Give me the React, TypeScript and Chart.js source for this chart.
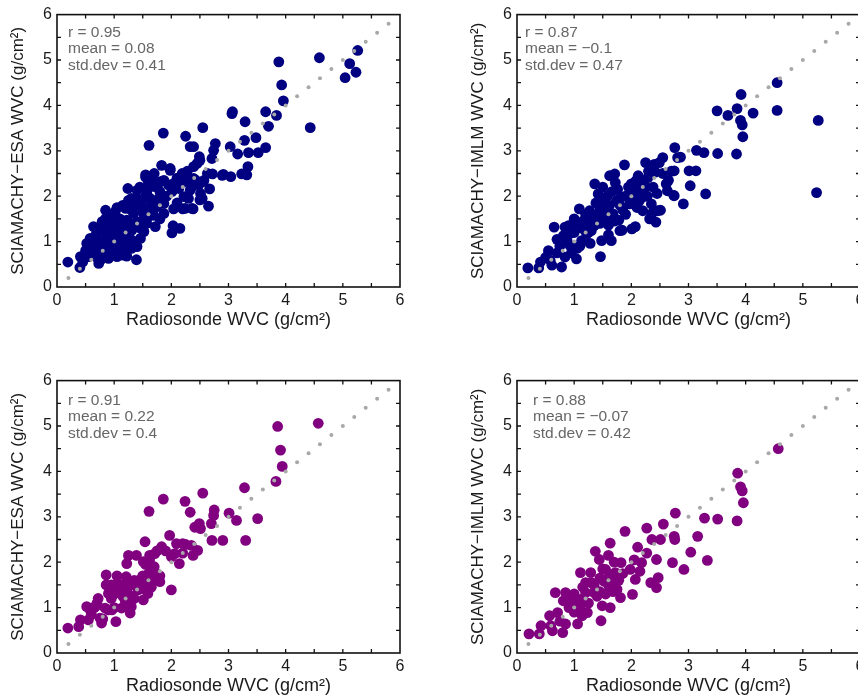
import React, { useEffect, useRef } from 'react';
import { Chart, registerables } from 'chart.js';

Chart.register(...registerables);

type Pt = [number, number];

const AXIS_TICKS = [0, 1, 2, 3, 4, 5, 6];
const MINOR_TICKS = [0.5, 1, 1.5, 2, 2.5, 3, 3.5, 4, 4.5, 5, 5.5];
const REF_LINE = [0.2, 0.4, 0.6, 0.8, 1.0, 1.2, 1.4, 1.6, 1.8, 2.0, 2.2, 2.4, 2.6, 2.8, 3.0, 3.2, 3.4, 3.6, 3.8, 4.0, 4.2, 4.4, 4.6, 4.8, 5.0, 5.2, 5.4, 5.6, 5.8];

const X_TITLE = 'Radiosonde WVC (g/cm²)';
const Y_TITLE_ESA = 'SCIAMACHY−ESA WVC (g/cm²)';
const Y_TITLE_IMLM = 'SCIAMACHY−IMLM WVC (g/cm²)';

const STATS_ESA_ALL = ['r = 0.95', 'mean = 0.08', 'std.dev = 0.41'];
const STATS_IMLM_ALL = ['r = 0.87', 'mean = −0.1', 'std.dev = 0.47'];
const STATS_ESA_SUB = ['r = 0.91', 'mean = 0.22', 'std.dev = 0.4'];
const STATS_IMLM_SUB = ['r = 0.88', 'mean = −0.07', 'std.dev = 0.42'];

const ESA_ALL: Pt[] = [
  [5.26, 5.21], [4.59, 5.05], [5.12, 4.92], [5.04, 4.61], [5.23, 4.73],
  [3.88, 4.96], [3.93, 4.45], [3.96, 4.10], [4.43, 3.51], [3.84, 3.78],
  [3.65, 3.86], [3.70, 3.54], [3.65, 3.07], [3.48, 3.29], [3.52, 2.96],
  [3.35, 2.96], [3.34, 2.65], [3.29, 3.64], [3.28, 3.23], [3.32, 2.47],
  [3.23, 2.49], [3.16, 2.93], [3.06, 3.82], [3.07, 3.86], [3.03, 3.09],
  [3.04, 2.43], [2.91, 2.48], [2.77, 3.16], [2.74, 3.01], [2.71, 2.83],
  [2.72, 2.49], [2.67, 2.16], [2.65, 1.78], [2.55, 3.51], [2.50, 2.79],
  [2.49, 2.87], [2.45, 2.72], [2.39, 3.09], [2.33, 3.09], [2.25, 3.32],
  [2.39, 2.65], [2.42, 2.36], [2.56, 2.32], [2.50, 1.92], [2.38, 1.72],
  [2.20, 1.72], [2.04, 1.72], [2.15, 1.29], [2.01, 1.19], [2.03, 1.35],
  [1.86, 3.39], [1.61, 3.12], [1.83, 2.68], [1.98, 2.61], [1.55, 2.47], [1.39, 0.60],
  [1.98, 2.57], [2.19, 2.50], [1.55, 2.42], [2.22, 2.31], [2.39, 2.39], [2.57, 2.35],
  [2.89, 2.46], [1.69, 2.31], [1.87, 2.35], [2.04, 2.28],
  [1.24, 2.17], [1.40, 2.13], [1.57, 2.06], [1.75, 2.20], [1.84, 2.02], [2.01, 2.10],
  [2.13, 2.17], [2.33, 2.13], [2.51, 2.06], [1.25, 1.91], [1.63, 1.95], [2.54, 1.95], [2.22, 1.99],
  [0.85, 1.69], [1.02, 1.66], [1.43, 1.80], [1.57, 1.73], [1.75, 1.77], [1.87, 1.84],
  [2.24, 1.73], [2.36, 1.73], [1.20, 1.73], [1.34, 1.62], [1.69, 1.58], [1.87, 1.62],
  [0.85, 1.51], [0.64, 1.33], [0.87, 1.29], [1.02, 1.36], [1.22, 1.47], [1.40, 1.44],
  [1.57, 1.40], [1.72, 1.33], [1.52, 1.22], [1.31, 1.25], [1.14, 1.29], [0.79, 1.44],
  [0.58, 1.07], [0.70, 1.03], [0.61, 0.89], [0.85, 1.07], [0.99, 0.89], [1.17, 0.96],
  [1.31, 1.03], [1.46, 1.07], [1.05, 1.14], [0.90, 0.81], [1.22, 0.81], [1.40, 0.89],
  [0.52, 0.96], [0.73, 0.85],
  [0.19, 0.55], [0.40, 0.43], [0.41, 0.67], [0.55, 0.67], [0.73, 0.52], [0.76, 0.59],
  [1.05, 0.67], [1.11, 0.78], [0.90, 0.63], [1.22, 0.68], [0.58, 0.78],
  [1.72, 2.21], [1.81, 2.32], [2.05, 2.21], [2.27, 2.36], [2.36, 2.21], [2.48, 2.25],
  [1.55, 2.00], [1.62, 2.20], [1.65, 1.90], [1.60, 1.55], [1.50, 1.65], [1.45, 1.30], [2.63, 2.50],
  [1.10, 1.50], [1.15, 1.10], [1.28, 1.40], [1.35, 1.80], [1.48, 1.90], [1.52, 1.50],
  [1.66, 1.70], [1.78, 1.95], [1.80, 1.50], [1.92, 2.00], [1.95, 2.25], [2.10, 2.40],
  [2.28, 2.55], [0.95, 1.20], [0.65, 0.70], [0.95, 1.45], [1.30, 1.95], [1.70, 2.50],
  [2.10, 1.85], [2.30, 1.95],
  [0.62, 1.00], [0.68, 1.15], [0.75, 1.25], [0.80, 0.95], [0.88, 1.15], [0.92, 1.00],
  [1.00, 1.10], [1.08, 1.00], [1.12, 1.20], [1.18, 1.10], [1.25, 1.15], [0.98, 1.55],
  [1.05, 1.75], [1.15, 1.80], [1.30, 1.70], [1.40, 1.95], [1.45, 2.20], [1.60, 2.30],
  [1.68, 1.80], [1.80, 2.10], [0.70, 0.65], [0.85, 0.75], [1.00, 0.78], [1.15, 0.70],
  [1.30, 0.85], [0.50, 0.80], [0.45, 0.55],
];

const IMLM_ALL: Pt[] = [
  [0.19, 0.42], [0.38, 0.42], [0.41, 0.55], [0.58, 0.59], [0.55, 0.80], [0.61, 0.48],
  [0.65, 1.32], [0.78, 0.44], [0.81, 1.13], [0.84, 1.32], [0.84, 0.66], [0.93, 0.91],
  [1.04, 0.62], [1.09, 1.72], [1.13, 1.02], [1.16, 1.46], [1.22, 1.17], [1.27, 1.68],
  [1.30, 1.24], [1.36, 2.27], [1.42, 2.05], [1.46, 0.67], [1.48, 1.02], [1.51, 1.54],
  [1.53, 1.90], [1.56, 1.46], [1.62, 2.45], [1.65, 1.02], [1.71, 2.49], [1.68, 1.61],
  [1.74, 1.90], [1.80, 1.24], [1.82, 1.98], [1.88, 2.69], [1.97, 1.83], [2.00, 2.27],
  [2.01, 1.28], [2.08, 2.34], [2.11, 2.12], [2.14, 1.90], [2.20, 1.68], [2.25, 2.74],
  [2.29, 2.41], [2.32, 1.50], [2.35, 1.83], [2.43, 1.43], [2.46, 1.68], [2.49, 2.74],
  [2.55, 2.85], [2.61, 2.27], [2.63, 2.12], [2.75, 2.01], [2.75, 2.56], [2.76, 3.07],
  [2.81, 2.85], [2.91, 1.83], [3.01, 2.56], [3.03, 2.23], [3.13, 2.56], [3.14, 3.01],
  [3.27, 2.96], [3.30, 2.05], [3.50, 3.88], [3.51, 2.94], [3.69, 3.78], [3.85, 3.93],
  [3.84, 2.93], [3.92, 4.24], [3.91, 3.67], [3.94, 3.57], [3.95, 3.31], [4.13, 3.83],
  [4.55, 4.50], [4.55, 3.89], [5.27, 3.67], [5.24, 2.08],
  [0.96, 0.89], [1.19, 1.25], [1.28, 0.96], [1.60, 1.36], [1.78, 1.47], [1.84, 1.25],
  [2.07, 1.33], [2.16, 2.32], [2.21, 1.99], [2.36, 1.62], [2.42, 2.53], [2.45, 2.06],
  [2.51, 1.69], [2.65, 2.35], [2.74, 2.02], [2.86, 2.86], [0.93, 1.18], [1.17, 1.36],
  [0.70, 0.75], [0.88, 1.00], [1.00, 1.20], [1.05, 0.85], [1.12, 1.30], [1.25, 1.45],
  [1.35, 1.35], [1.40, 1.60], [1.45, 1.75], [1.55, 1.65], [1.62, 1.80], [1.66, 2.10],
  [1.70, 1.45], [1.76, 2.15], [1.85, 1.70], [1.90, 2.00], [1.95, 2.20], [2.05, 1.95],
  [2.12, 2.45], [2.18, 2.15], [2.28, 2.00], [2.38, 2.20], [2.40, 2.70], [2.55, 2.50], [2.70, 2.55],
  [0.70, 1.05], [0.75, 0.90], [0.90, 1.35], [1.00, 1.50], [1.05, 1.35], [1.10, 0.90],
  [1.20, 1.60], [1.25, 1.20], [1.32, 1.55], [1.38, 1.85], [1.45, 1.40], [1.50, 2.20],
  [1.58, 2.00], [1.60, 1.15], [1.72, 2.30], [1.80, 1.80], [1.90, 1.60], [2.00, 2.05],
  [2.10, 1.75], [2.25, 2.20], [2.30, 2.55], [0.50, 0.65], [0.95, 0.75],
];

const ESA_SUB: Pt[] = [
  [0.19, 0.55], [0.38, 0.58], [0.41, 0.73], [0.52, 1.02], [0.55, 0.73], [0.58, 0.95],
  [0.67, 1.02], [0.72, 1.20], [0.75, 0.77], [0.78, 0.66], [0.86, 1.72], [0.86, 1.50],
  [0.84, 0.99], [0.90, 1.31], [0.96, 0.95], [1.03, 0.69], [1.07, 1.53], [1.10, 1.39],
  [1.13, 0.99], [1.19, 1.17], [1.21, 1.68], [1.25, 2.15], [1.25, 1.46], [1.28, 0.88],
  [1.30, 1.02], [1.22, 1.97], [1.30, 1.53], [1.39, 2.15], [1.42, 1.39], [1.45, 1.61],
  [1.51, 1.17], [1.54, 2.45], [1.51, 2.01], [1.57, 1.68], [1.59, 1.31], [1.61, 3.12],
  [1.62, 2.15], [1.65, 1.90], [1.68, 1.57], [1.71, 2.19], [1.74, 1.75], [1.80, 1.57],
  [1.83, 2.34], [1.86, 3.39], [1.97, 2.59], [2.00, 1.39], [2.00, 2.12], [2.06, 2.19],
  [2.14, 1.97], [2.09, 2.41], [2.20, 2.41], [2.24, 3.34], [2.25, 2.39], [2.33, 3.10],
  [2.35, 2.37], [2.38, 2.15], [2.41, 2.77], [2.46, 2.26], [2.49, 2.85], [2.51, 2.74],
  [2.55, 3.52], [2.70, 2.85], [2.71, 2.48], [2.75, 3.15], [2.74, 3.03], [2.90, 2.48],
  [3.01, 3.08], [3.14, 2.92], [3.28, 3.64], [3.30, 2.48], [3.51, 2.96], [3.83, 3.78],
  [3.86, 4.99], [3.91, 4.47], [3.94, 4.11], [4.57, 5.06],
  [0.95, 1.50], [1.00, 1.30], [1.15, 1.50], [1.20, 1.35], [1.35, 1.60], [1.40, 1.45],
  [1.45, 1.55], [1.55, 1.40], [1.60, 1.50], [1.65, 1.45], [1.70, 1.65], [1.75, 2.25],
  [1.62, 2.05], [1.55, 1.95], [1.50, 1.70], [1.35, 1.20], [1.20, 1.10], [1.00, 1.00],
  [0.90, 0.95], [0.80, 0.75], [0.65, 1.00], [0.60, 0.85],
  [0.70, 1.10], [0.95, 1.20], [1.05, 1.70], [1.15, 1.25], [1.30, 1.25], [1.50, 1.45],
  [1.60, 1.75], [1.70, 1.90], [1.80, 1.70], [1.90, 2.25], [2.20, 2.20],
];

const IMLM_SUB: Pt[] = [
  [0.21, 0.42], [0.39, 0.42], [0.42, 0.60], [0.57, 0.82], [0.59, 0.60], [0.62, 0.49],
  [0.67, 1.33], [0.71, 0.89], [0.80, 0.45], [0.81, 1.15], [0.85, 1.33], [0.85, 0.64],
  [0.91, 1.00], [1.06, 0.64], [1.11, 1.77], [1.11, 1.18], [1.14, 0.82], [1.20, 1.33],
  [1.23, 0.89], [1.29, 1.77], [1.35, 1.33], [1.37, 2.24], [1.44, 2.06], [1.47, 0.71],
  [1.49, 1.04], [1.52, 1.58], [1.55, 1.84], [1.61, 1.47], [1.63, 2.42], [1.63, 1.00],
  [1.72, 1.77], [1.75, 1.40], [1.81, 1.22], [1.82, 1.99], [1.89, 2.68], [1.98, 1.84],
  [2.02, 1.29], [2.07, 1.62], [2.11, 2.33], [2.18, 1.99], [2.27, 2.75], [2.27, 2.20],
  [2.34, 1.55], [2.36, 2.50], [2.44, 1.44], [2.47, 1.66], [2.44, 2.06], [2.51, 2.50],
  [2.56, 2.84], [2.72, 1.99], [2.75, 2.57], [2.76, 2.50], [2.77, 3.08], [2.92, 1.84],
  [3.04, 2.22], [3.16, 2.57], [3.28, 2.97], [3.33, 2.04], [3.51, 2.95], [3.85, 2.91],
  [3.86, 3.96], [3.91, 3.66], [3.94, 3.57], [3.96, 3.31], [4.57, 4.50],
  [0.95, 1.20], [1.00, 0.90], [1.15, 1.45], [1.25, 1.10], [1.30, 1.55], [1.40, 1.25],
  [1.45, 1.65], [1.55, 1.30], [1.58, 1.55], [1.65, 1.70], [1.68, 1.35], [1.70, 2.00],
  [1.78, 1.60], [1.60, 2.15], [1.05, 1.05], [0.75, 0.70], [1.20, 1.55], [1.50, 1.85],
  [0.90, 1.10], [1.00, 1.30], [1.10, 1.00], [1.35, 1.50], [1.45, 1.35], [1.55, 1.60],
  [1.62, 1.70], [1.70, 1.55], [1.85, 1.75], [2.05, 2.05], [2.15, 1.80],
];

const FONT = '"Liberation Sans", Arial, Helvetica, sans-serif';

const framePlugin = {
  id: 'frame',
  afterDraw(chart: any, _args: any, opts: any) {
    const { ctx, chartArea: a, scales } = chart;
    const xs = scales.x;
    const ys = scales.y;
    ctx.save();
    ctx.strokeStyle = '#111';
    ctx.lineWidth = 1.6;
    ctx.strokeRect(a.left, a.top, a.right - a.left, a.bottom - a.top);
    ctx.lineWidth = 1.3;
    ctx.beginPath();
    for (const v of MINOR_TICKS) {
      const px = xs.getPixelForValue(v);
      ctx.moveTo(px, a.bottom);
      ctx.lineTo(px, a.bottom - 4);
      ctx.moveTo(px, a.top);
      ctx.lineTo(px, a.top + 4);
      const py = ys.getPixelForValue(v);
      ctx.moveTo(a.left, py);
      ctx.lineTo(a.left + 4, py);
      ctx.moveTo(a.right, py);
      ctx.lineTo(a.right - 4, py);
    }
    ctx.stroke();
    ctx.fillStyle = '#666666';
    ctx.font = '15.5px ' + FONT;
    ctx.textBaseline = 'middle';
    ctx.textAlign = 'left';
    (opts.lines || []).forEach((t: string, i: number) => {
      ctx.fillText(t, a.left + opts.dx, a.top + opts.dy + i * 16.5);
    });
    ctx.restore();
  },
};

type PanelProps = {
  left: number;
  top: number;
  data: Pt[];
  color: string;
  yTitle: string;
  stats: string[];
  dx: number;
  dy: number;
};

function Panel({ left, top, data, color, yTitle, stats, dx, dy }: PanelProps) {
  const ref = useRef<HTMLCanvasElement | null>(null);
  useEffect(() => {
    if (!ref.current) return;
    const chart = new Chart(ref.current, {
      type: 'scatter',
      data: {
        datasets: [
          {
            data: REF_LINE.map((v) => ({ x: v, y: v })),
            pointRadius: 2,
            pointBackgroundColor: '#a8a8a8',
            pointBorderWidth: 0,
            order: 0,
          },
          {
            data: data.map(([x, y]) => ({ x, y })),
            pointRadius: 5.4,
            pointBackgroundColor: color,
            pointBorderWidth: 0,
            order: 1,
          },
        ],
      },
      options: {
        animation: false,
        responsive: false,
        events: [],
        layout: { padding: { left: 0, right: 30, top: 14, bottom: 0 } },
        plugins: {
          legend: { display: false },
          tooltip: { enabled: false },
          frame: { lines: stats, dx, dy },
        } as any,
        scales: {
          x: {
            type: 'linear',
            min: 0,
            max: 6,
            afterBuildTicks: (s: any) => {
              s.ticks = AXIS_TICKS.map((v) => ({ value: v }));
            },
            ticks: { padding: 4, color: '#1a1a1a', font: { family: FONT, size: 16 }, maxRotation: 0, autoSkip: false },
            grid: { display: false, drawTicks: false },
            border: { display: false },
            title: {
              display: true,
              text: X_TITLE,
              color: '#1a1a1a',
              font: { family: FONT, size: 18 },
              padding: { top: 0, bottom: 9 },
            },
            afterFit: (s: any) => {
              s.height = 53;
            },
          },
          y: {
            type: 'linear',
            min: 0,
            max: 6,
            afterBuildTicks: (s: any) => {
              s.ticks = AXIS_TICKS.map((v) => ({ value: v }));
            },
            ticks: { padding: 5, color: '#1a1a1a', font: { family: FONT, size: 16 }, autoSkip: false },
            grid: { display: false, drawTicks: false },
            border: { display: false },
            title: {
              display: true,
              text: yTitle,
              color: '#1a1a1a',
              font: { family: FONT, size: 17 },
              padding: { top: 8, bottom: 0 },
            },
            afterFit: (s: any) => {
              s.width = 57;
            },
          },
        },
      },
      plugins: [framePlugin as any],
    });
    return () => chart.destroy();
  }, [data, color, yTitle, stats, dx, dy]);
  return (
    <canvas
      ref={ref}
      width={430}
      height={340}
      style={{ position: 'absolute', left, top, width: 430, height: 340 }}
    />
  );
}

export default function App() {
  return (
    <div
      style={{
        position: 'fixed',
        left: 0,
        top: 0,
        width: 858,
        height: 698,
        overflow: 'hidden',
        background: '#ffffff',
      }}
    >
      <Panel left={0} top={0} data={ESA_ALL} color="#000080" yTitle={Y_TITLE_ESA} stats={STATS_ESA_ALL} dx={11} dy={18} />
      <Panel left={460} top={0} data={IMLM_ALL} color="#000080" yTitle={Y_TITLE_IMLM} stats={STATS_IMLM_ALL} dx={8} dy={18} />
      <Panel left={0} top={366} data={ESA_SUB} color="#800080" yTitle={Y_TITLE_ESA} stats={STATS_ESA_SUB} dx={11} dy={20} />
      <Panel left={460} top={366} data={IMLM_SUB} color="#800080" yTitle={Y_TITLE_IMLM} stats={STATS_IMLM_SUB} dx={16} dy={20} />
    </div>
  );
}
